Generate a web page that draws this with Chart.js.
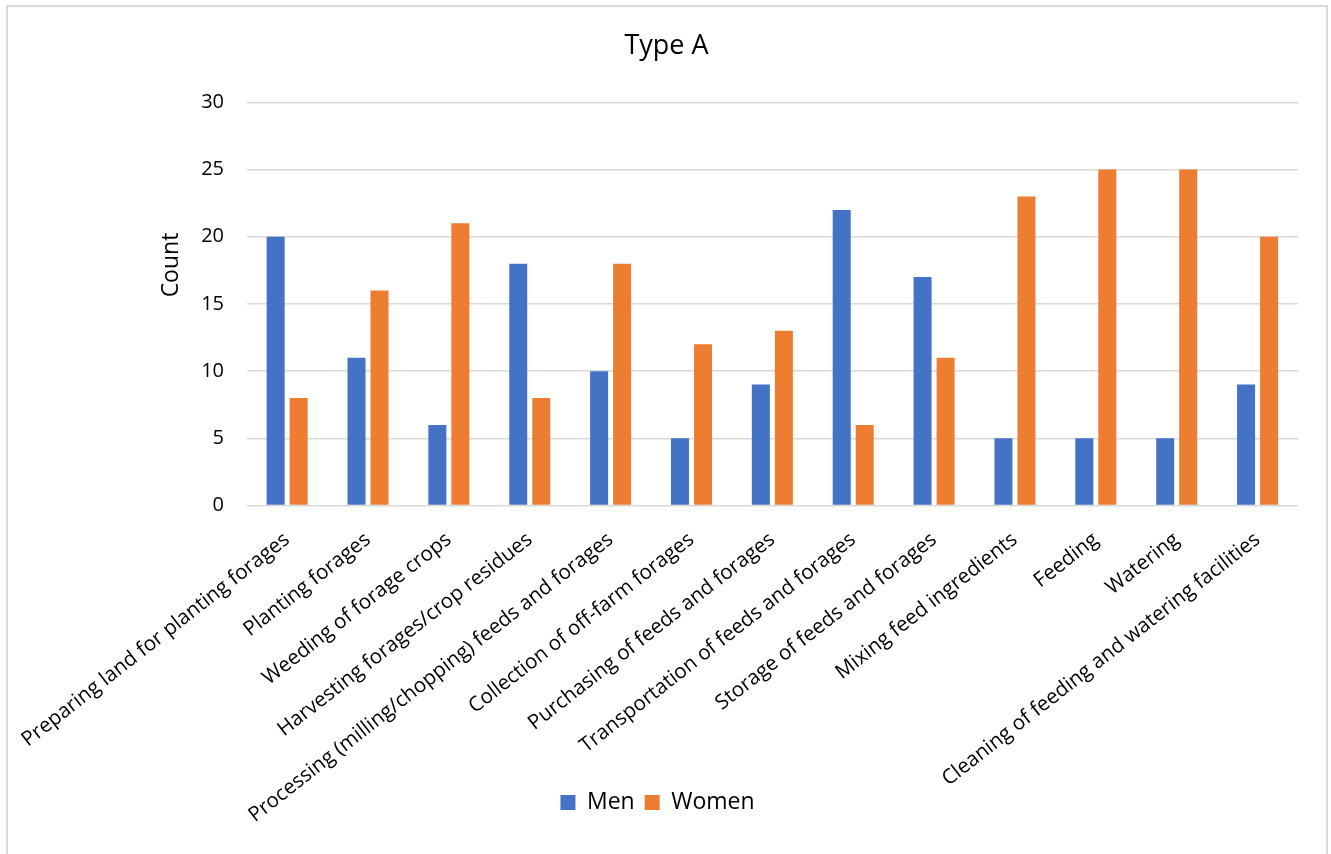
<!DOCTYPE html>
<html>
<head>
<meta charset="utf-8">
<title>Type A</title>
<script src="https://cdn.jsdelivr.net/npm/chart.js@4/dist/chart.umd.min.js"></script>
<style>
  html, body { margin: 0; padding: 0; background: #ffffff; overflow: hidden; }
  #wrap { position: relative; width: 1331px; height: 854px; }
  #frame {
    position: absolute; left: 6px; top: 5px; width: 1322px; height: 900px;
    box-sizing: border-box; border: 2px solid #d9d9d9; pointer-events: none;
  }
  canvas { position: absolute; left: 0; top: 0; }
</style>
</head>
<body>
<div id="wrap">
  <canvas id="chart" width="1331" height="854"></canvas>
  <div id="frame"></div>
</div>
<script>
// Activities along the x axis
const categories = [
  "Preparing land for planting forages",
  "Planting forages",
  "Weeding of forage crops",
  "Harvesting forages/crop residues",
  "Processing (milling/chopping) feeds and forages",
  "Collection of off-farm forages",
  "Purchasing of feeds and forages",
  "Transportation of feeds and forages",
  "Storage of feeds and forages",
  "Mixing feed ingredients",
  "Feeding",
  "Watering",
  "Cleaning of feeding and watering facilities"
];

// Counts per activity
const menCounts   = [20, 11, 6, 18, 10, 5, 9, 22, 17, 5, 5, 5, 9];
const womenCounts = [8, 16, 21, 8, 18, 12, 13, 6, 11, 23, 25, 25, 20];

// Value axis ticks
const yTicks = [0, 5, 10, 15, 20, 25, 30];

const FONT = "'Open Sans', 'Liberation Sans', sans-serif";
const TEXT = "#000000";

const layoutTweaks = {
  id: "layoutTweaks",
  afterLayout(chart) {
    // centre the chart title on the whole canvas rather than the padded box
    if (chart.titleBlock) {
      chart.titleBlock.left += 9;
      chart.titleBlock.right += 9;
    }
    // long rotated category labels run down beside the legend: let them
    // extend past the compact x-axis box instead of being clipped
    chart.scales.x.bottom = chart.height;
  },
  afterDraw(chart) {
    // rotated value-axis title, beside the tick labels
    const ctx = chart.ctx;
    ctx.save();
    ctx.translate(171.5, 265);
    ctx.rotate(-Math.PI / 2);
    ctx.font = "23px " + FONT;
    ctx.fillStyle = TEXT;
    ctx.textAlign = "center";
    ctx.textBaseline = "middle";
    ctx.fillText("Count", 0, 0);
    ctx.restore();
  }
};

new Chart(document.getElementById("chart"), {
  type: "bar",
  data: {
    labels: categories,
    datasets: [
      { label: "Men", data: menCounts, backgroundColor: "#4472C4",
        categoryPercentage: 0.569, barPercentage: 0.783 },
      { label: "Women", data: womenCounts, backgroundColor: "#ED7D31",
        categoryPercentage: 0.569, barPercentage: 0.783 }
    ]
  },
  options: {
    responsive: false,
    animation: false,
    layout: { padding: { left: 17, right: 33, top: 0, bottom: 30 } },
    plugins: {
      title: {
        display: true,
        text: "Type A",
        color: TEXT,
        font: { family: FONT, size: 27, weight: "normal" },
        padding: { top: 30, bottom: 40 }
      },
      legend: {
        position: "bottom",
        labels: {
          color: TEXT,
          font: { family: FONT, size: 23 },
          boxWidth: 15,
          boxHeight: 15,
          padding: 10
        }
      },
      tooltip: { enabled: false }
    },
    scales: {
      x: {
        grid: { display: false, drawTicks: false },
        border: { display: false },
        ticks: {
          color: TEXT,
          font: { family: FONT, size: 20.5 },
          minRotation: 38,
          maxRotation: 38,
          autoSkip: false,
          padding: 22
        },
        afterFit(scale) {
          scale.height = 275.5;
          // the first label may hang out to the left; keep the plot area fixed
          scale.paddingLeft = 0;
          scale.paddingRight = 0;
        }
      },
      y: {
        min: yTicks[0],
        max: yTicks[yTicks.length - 1],
        grid: { color: "#d9d9d9", lineWidth: 1.5, drawTicks: false },
        border: { display: false },
        ticks: {
          color: TEXT,
          font: { family: FONT, size: 20 },
          stepSize: yTicks[1] - yTicks[0],
          padding: 22.7
        },
        afterFit(scale) { scale.width = 229.7; }
      }
    }
  },
  plugins: [layoutTweaks]
});
</script>
</body>
</html>
